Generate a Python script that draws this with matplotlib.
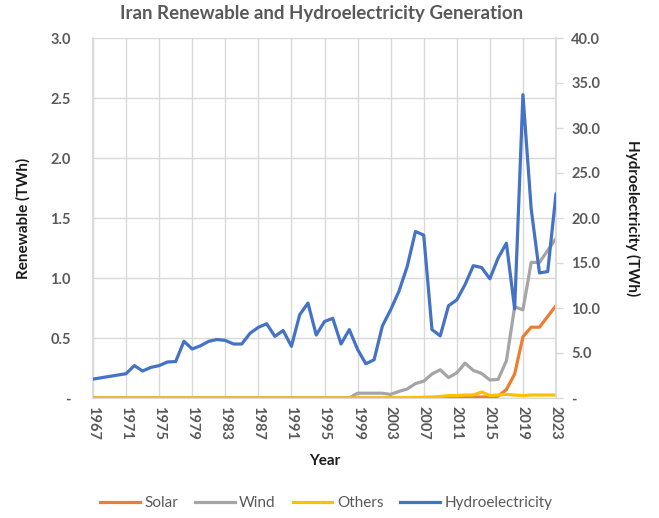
import matplotlib
matplotlib.use("Agg")
import matplotlib.pyplot as plt
from matplotlib.ticker import FixedLocator, FuncFormatter
from matplotlib.lines import Line2D

plt.rcParams['font.family'] = ['Lato', 'DejaVu Sans']

years = list(range(1967, 2024))

solar = [0.0] * 42 + [0.001, 0.002, 0.005, 0.006, 0.007, 0.008, 0.01, 0.015,
                      0.07, 0.2, 0.51, 0.59, 0.59, 0.68, 0.77]

wind = [0.0] * 31 + [0.0, 0.04, 0.04, 0.04, 0.04, 0.03, 0.055, 0.075, 0.12, 0.14,
                     0.2, 0.235, 0.17, 0.21, 0.29, 0.23, 0.205, 0.15, 0.155, 0.31,
                     0.76, 0.735, 1.13, 1.13, 1.23, 1.33]

others = [0.0] * 37 + [0.002, 0.004, 0.005, 0.006, 0.008, 0.012, 0.02, 0.02, 0.025,
                       0.025, 0.05, 0.02, 0.025, 0.03, 0.025, 0.02, 0.025, 0.025,
                       0.025, 0.025]

hydro = [2.1, 2.25, 2.4, 2.55, 2.7, 3.6, 3.0, 3.4, 3.6, 4.0,
         4.05, 6.3, 5.45, 5.8, 6.3, 6.5, 6.4, 6.0, 6.0, 7.2,
         7.85, 8.25, 6.85, 7.5, 5.75, 9.25, 10.55, 7.0, 8.5, 8.85,
         6.0, 7.6, 5.4, 3.8, 4.25, 8.0, 9.8, 11.85, 14.6, 18.5,
         18.1, 7.6, 6.9, 10.25, 10.9, 12.6, 14.7, 14.5, 13.25, 15.55,
         17.2, 9.9, 33.7, 21.0, 13.9, 14.05, 22.7]

year_ticks = list(range(1967, 2024, 4))
left_ticks = [0, 0.5, 1.0, 1.5, 2.0, 2.5, 3.0]
right_ticks = [0, 5, 10, 15, 20, 25, 30, 35, 40]

C_SOLAR = '#ED7D31'
C_WIND = '#A5A5A5'
C_OTHERS = '#FFC000'
C_HYDRO = '#4472C4'
TXT = '#595959'
GRID = '#D9D9D9'
LW = 2.3

fig = plt.figure(figsize=(6.59, 5.18), dpi=100)
ax = fig.add_axes([93 / 659, 1 - 398 / 518, (556 - 93) / 659, (398 - 38) / 518])
ax2 = ax.twinx()

ax.plot(years, solar, color=C_SOLAR, lw=LW, solid_capstyle='round', zorder=3)
ax.plot(years, wind, color=C_WIND, lw=LW, solid_capstyle='round', zorder=3)
ax.plot(years, others, color=C_OTHERS, lw=LW, solid_capstyle='round', zorder=4)
ax2.plot(years, hydro, color=C_HYDRO, lw=LW, solid_capstyle='round', zorder=5)

ax.set_xlim(1967, 2023)
ax.set_ylim(0, 3.0)
ax2.set_ylim(0, 40)

def dash_zero(fmt):
    return FuncFormatter(lambda v, p: '-' if abs(v) < 1e-9 else fmt.format(v))

ax.xaxis.set_major_locator(FixedLocator(year_ticks))
ax.yaxis.set_major_locator(FixedLocator(left_ticks))
ax.yaxis.set_major_formatter(dash_zero('{:.1f}'))
ax2.yaxis.set_major_locator(FixedLocator(right_ticks))
ax2.yaxis.set_major_formatter(dash_zero('{:.1f}'))

ax.grid(True, color=GRID, lw=1.0, zorder=0)
ax.set_axisbelow(True)

for a in (ax, ax2):
    for s in a.spines.values():
        s.set_visible(False)
ax.spines['left'].set_visible(True)
ax.spines['left'].set_color(GRID)
ax.spines['left'].set_linewidth(1.3)
ax.spines['bottom'].set_visible(True)
ax.spines['bottom'].set_color(GRID)
ax2.spines['right'].set_visible(True)
ax2.spines['right'].set_color(GRID)
ax2.spines['right'].set_linewidth(1.3)

ax.tick_params(axis='y', length=0, pad=16, labelsize=10.5, labelcolor=TXT)
ax.tick_params(axis='x', length=0, pad=6, labelsize=10.5, labelcolor=TXT,
               labelrotation=270)
ax2.tick_params(axis='y', length=5, width=1, color=GRID, direction='out', pad=6,
                labelsize=10.5, labelcolor=TXT)
for lbl in ax.get_xticklabels() + ax.get_yticklabels() + ax2.get_yticklabels():
    lbl.set_fontweight('bold')

ax.set_xlabel('Year', fontsize=11, fontweight='bold', color='#1a1a1a', labelpad=10)
ax.set_ylabel('Renewable (TWh)', fontsize=11, fontweight='bold', color='#1a1a1a',
              labelpad=14)
ax2.set_ylabel('Hydroelectricity (TWh)', fontsize=11, fontweight='bold',
               color='#1a1a1a', rotation=270, labelpad=29)

fig.text(0.488, 1 - 14 / 518, 'Iran Renewable and Hydroelectricity Generation',
         ha='center', va='center', fontsize=13.5, fontweight='bold', color=TXT)

handles = [Line2D([], [], color=c, lw=LW) for c in (C_SOLAR, C_WIND, C_OTHERS, C_HYDRO)]
fig.legend(handles, ['Solar', 'Wind', 'Others', 'Hydroelectricity'],
           loc='center', bbox_to_anchor=(0.495, 1 - 503 / 518), ncol=4,
           frameon=False, fontsize=11, labelcolor=TXT, handlelength=2.6,
           handletextpad=0.3, columnspacing=1.1)

fig.savefig('out.png', dpi=100)
